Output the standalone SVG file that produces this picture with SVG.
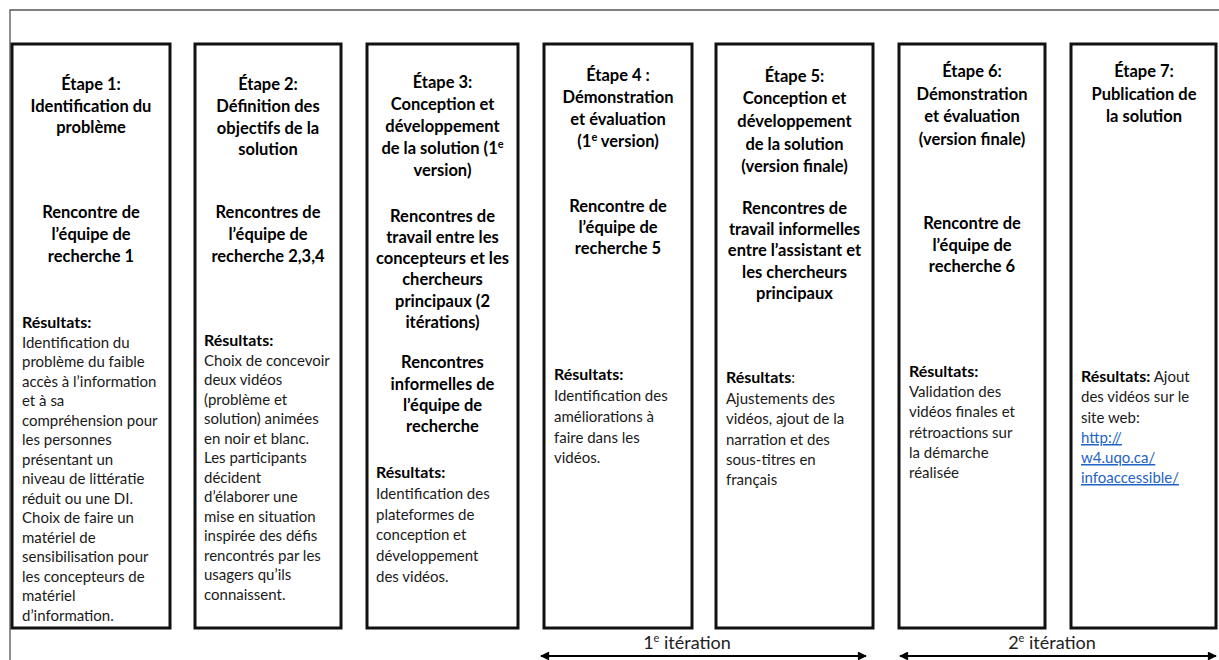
<svg xmlns="http://www.w3.org/2000/svg" width="1219" height="660" viewBox="0 0 1219 660">
<style>
.frame{fill:none;stroke:#555;stroke-width:1.3}
.box{fill:#fff;stroke:#111;stroke-width:3}
text{font-family:Lato,"Liberation Sans",sans-serif;font-size:15px;fill:#1a1a1a}
.h{font-weight:bold;font-size:16.5px;text-anchor:middle;fill:#000}
.hb{font-weight:bold;font-size:16px;fill:#000}
.link{fill:#1f63c6;text-decoration:underline}
.lbl{text-anchor:middle;fill:#222;font-size:18px}
.sup{font-size:11px}
.conn{stroke:#000;stroke-width:2;fill:none;marker-start:url(#ah);marker-end:url(#ah)}
</style>
<defs>
<marker id="ah" viewBox="0 0 10 10" refX="9" refY="5" markerWidth="5" markerHeight="4.5" orient="auto-start-reverse" markerUnits="strokeWidth">
<path d="M0,0 L10,5 L0,10 z" fill="#000"/>
</marker>
</defs>
<rect width="1219" height="660" fill="#fff"/>
<path class="frame" d="M10,660 V10 H1219"/>

<g id="step1">
<rect class="box" x="12" y="44" width="158" height="584"/>
<text class="h" x="91" y="90">Étape 1:</text>
<text class="h" x="91" y="112">Identification du</text>
<text class="h" x="91" y="133">problème</text>
<text class="h" x="91" y="218">Rencontre de</text>
<text class="h" x="91" y="240">l’équipe de</text>
<text class="h" x="91" y="262">recherche 1</text>
<text class="hb" x="22" y="328">Résultats:</text>
<text x="22" y="347.5">Identification du</text>
<text x="22" y="367">problème du faible</text>
<text x="22" y="386.5">accès à l’information</text>
<text x="22" y="406">et à sa</text>
<text x="22" y="425.5">compréhension pour</text>
<text x="22" y="445">les personnes</text>
<text x="22" y="464.5">présentant un</text>
<text x="22" y="484">niveau de littératie</text>
<text x="22" y="503.5">réduit ou une DI.</text>
<text x="22" y="523">Choix de faire un</text>
<text x="22" y="542.5">matériel de</text>
<text x="22" y="562">sensibilisation pour</text>
<text x="22" y="581.5">les concepteurs de</text>
<text x="22" y="601">matériel</text>
<text x="22" y="620.5">d’information.</text>
</g>

<g id="step2">
<rect class="box" x="195" y="44" width="146" height="584"/>
<text class="h" x="268" y="90">Étape 2:</text>
<text class="h" x="268" y="112">Définition des</text>
<text class="h" x="268" y="134">objectifs de la</text>
<text class="h" x="268" y="155">solution</text>
<text class="h" x="268" y="218">Rencontres de</text>
<text class="h" x="268" y="240">l’équipe de</text>
<text class="h" x="268" y="262">recherche 2,3,4</text>
<text class="hb" x="204" y="346">Résultats:</text>
<text x="204" y="365.5">Choix de concevoir</text>
<text x="204" y="385">deux vidéos</text>
<text x="204" y="404.5">(problème et</text>
<text x="204" y="424">solution) animées</text>
<text x="204" y="443.5">en noir et blanc.</text>
<text x="204" y="463">Les participants</text>
<text x="204" y="482.5">décident</text>
<text x="204" y="502">d’élaborer une</text>
<text x="204" y="521.5">mise en situation</text>
<text x="204" y="541">inspirée des défis</text>
<text x="204" y="560.5">rencontrés par les</text>
<text x="204" y="580">usagers qu’ils</text>
<text x="204" y="599.5">connaissent.</text>
</g>

<g id="step3">
<rect class="box" x="367" y="44" width="151" height="584"/>
<text class="h" x="442.5" y="88">Étape 3:</text>
<text class="h" x="442.5" y="110">Conception et</text>
<text class="h" x="442.5" y="132">développement</text>
<text class="h" x="442.5" y="154">de la solution (1<tspan class="sup" dy="-6">e</tspan></text>
<text class="h" x="442.5" y="176">version)</text>
<text class="h" x="442.5" y="222">Rencontres de</text>
<text class="h" x="442.5" y="243">travail entre les</text>
<text class="h" x="442.5" y="264">concepteurs et les</text>
<text class="h" x="442.5" y="285">chercheurs</text>
<text class="h" x="442.5" y="307">principaux (2</text>
<text class="h" x="442.5" y="328">itérations)</text>
<text class="h" x="442.5" y="368">Rencontres</text>
<text class="h" x="442.5" y="390">informelles de</text>
<text class="h" x="442.5" y="411">l’équipe de</text>
<text class="h" x="442.5" y="432">recherche</text>
<text class="hb" x="376" y="478">Résultats:</text>
<text x="376" y="499">Identification des</text>
<text x="376" y="520">plateformes de</text>
<text x="376" y="540">conception et</text>
<text x="376" y="561">développement</text>
<text x="376" y="582">des vidéos.</text>
</g>

<g id="step4">
<rect class="box" x="544" y="44" width="148" height="584"/>
<text class="h" x="618" y="81">Étape 4 :</text>
<text class="h" x="618" y="103">Démonstration</text>
<text class="h" x="618" y="125">et évaluation</text>
<text class="h" x="618" y="147">(1<tspan class="sup" dy="-6">e</tspan><tspan dy="6"> version)</tspan></text>
<text class="h" x="618" y="212">Rencontre de</text>
<text class="h" x="618" y="233">l’équipe de</text>
<text class="h" x="618" y="254">recherche 5</text>
<text class="hb" x="554" y="380">Résultats:</text>
<text x="554" y="401">Identification des</text>
<text x="554" y="422">améliorations à</text>
<text x="554" y="443">faire dans les</text>
<text x="554" y="463">vidéos.</text>
</g>

<g id="step5">
<rect class="box" x="716" y="44" width="157" height="584"/>
<text class="h" x="794.5" y="82">Étape 5:</text>
<text class="h" x="794.5" y="104">Conception et</text>
<text class="h" x="794.5" y="127">développement</text>
<text class="h" x="794.5" y="150">de la solution</text>
<text class="h" x="794.5" y="172">(version finale)</text>
<text class="h" x="794.5" y="214">Rencontres de</text>
<text class="h" x="794.5" y="235">travail informelles</text>
<text class="h" x="794.5" y="256">entre l’assistant et</text>
<text class="h" x="794.5" y="278">les chercheurs</text>
<text class="h" x="794.5" y="299">principaux</text>
<text x="726" y="383"><tspan class="hb">Résultats</tspan>:</text>
<text x="726" y="404">Ajustements des</text>
<text x="726" y="424">vidéos, ajout de la</text>
<text x="726" y="445">narration et des</text>
<text x="726" y="465">sous-titres en</text>
<text x="726" y="485">français</text>
</g>

<g id="step6">
<rect class="box" x="899" y="44" width="146" height="584"/>
<text class="h" x="972" y="77">Étape 6:</text>
<text class="h" x="972" y="100">Démonstration</text>
<text class="h" x="972" y="122">et évaluation</text>
<text class="h" x="972" y="145">(version finale)</text>
<text class="h" x="972" y="229">Rencontre de</text>
<text class="h" x="972" y="251">l’équipe de</text>
<text class="h" x="972" y="272">recherche 6</text>
<text class="hb" x="909" y="377">Résultats:</text>
<text x="909" y="397">Validation des</text>
<text x="909" y="417">vidéos finales et</text>
<text x="909" y="438">rétroactions sur</text>
<text x="909" y="458">la démarche</text>
<text x="909" y="478">réalisée</text>
</g>

<g id="step7">
<rect class="box" x="1071" y="44" width="145" height="584"/>
<text class="h" x="1144" y="77">Étape 7:</text>
<text class="h" x="1144" y="100">Publication de</text>
<text class="h" x="1144" y="122">la solution</text>
<text x="1081" y="382"><tspan class="hb">Résultats:</tspan> Ajout</text>
<text x="1081" y="402">des vidéos sur le</text>
<text x="1081" y="423">site web:</text>
<text class="link" x="1081" y="443">http://</text>
<text class="link" x="1081" y="463">w4.uqo.ca/</text>
<text class="link" x="1081" y="483">infoaccessible/</text>
</g>

<g id="connectors">
<line class="conn" x1="541" y1="656" x2="866" y2="656"/>
<line class="conn" x1="900" y1="656" x2="1216" y2="656"/>
<text class="lbl" x="687" y="649">1<tspan class="sup" dy="-7">e</tspan><tspan dy="7"> itération</tspan></text>
<text class="lbl" x="1052" y="649">2<tspan class="sup" dy="-7">e</tspan><tspan dy="7"> itération</tspan></text>
</g>
</svg>
